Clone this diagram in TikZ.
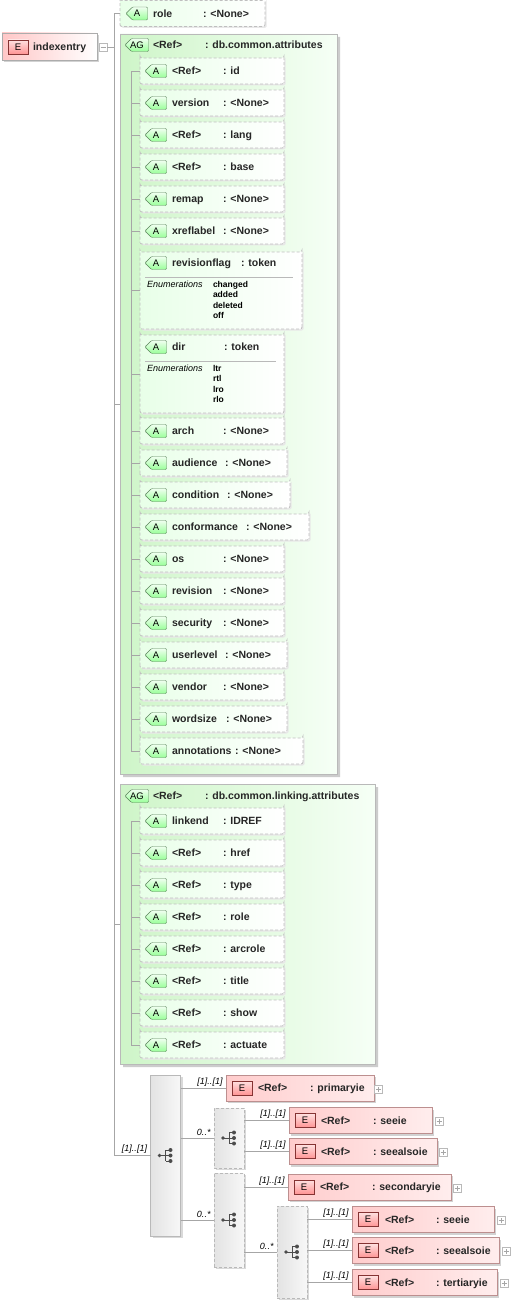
\documentclass[tikz,border=0pt]{standalone}
\usepackage{fontspec}
\setmainfont{Liberation Sans}
\usetikzlibrary{shapes.misc, shadows}

\begin{document}
\begin{tikzpicture}[
        x=1pt, y=-1pt,
        every node/.style={inner sep=0pt, outer sep=0pt, font=\bfseries\fontsize{10.5}{12}\selectfont},
        conn/.style={draw=gray!70, line width=0.7pt},
        txt/.style={anchor=west, text height=7.5pt, text depth=0pt, text=black!85},
        mult/.style={anchor=south east, xshift=-3.5pt, yshift=2pt, font=\itshape\fontsize{9}{10}\selectfont},
        enumhead/.style={anchor=west, font=\itshape\fontsize{9}{10}\selectfont},
        enumlist/.style={anchor=north west, align=left, font=\bfseries\fontsize{8.5}{10.6}\selectfont},
        rootbox/.style={rectangle, draw=gray!65, left color=red!22!white, right color=white, minimum width=95pt, minimum height=27pt, anchor=west, drop shadow={shadow xshift=2pt, shadow yshift=-2pt, fill=gray!35, opacity=1}},
        elem/.style={rectangle, draw=red!25!gray!70, left color=red!20!white, right color=red!7!white, minimum height=26pt, anchor=west, drop shadow={shadow xshift=2pt, shadow yshift=-2pt, fill=gray!35, opacity=1}},
        attr/.style={chamfered rectangle, chamfered rectangle corners={north west,south west}, chamfered rectangle xsep=6pt, chamfered rectangle ysep=6pt, rounded corners=2pt, draw=gray!50, dash pattern=on 3pt off 2pt, line width=0.8pt, left color=green!9!white, right color=white, minimum height=26pt, anchor=west, drop shadow={shadow xshift=1.5pt, shadow yshift=-1.5pt, fill=gray!18, opacity=1}},
        group/.style={chamfered rectangle, chamfered rectangle corners={north west,south west}, chamfered rectangle xsep=8pt, chamfered rectangle ysep=8pt, draw=gray!55, line width=0.8pt, left color={rgb,255:red,206;green,245;blue,200}, right color={rgb,255:red,246;green,255;blue,246}, anchor=west, drop shadow={shadow xshift=3pt, shadow yshift=-3pt, fill=gray!40, opacity=1}},
        aicon/.style={chamfered rectangle, chamfered rectangle corners={north west,south west}, chamfered rectangle xsep=3pt, chamfered rectangle ysep=3pt, rounded corners=1pt, draw=green!25!black!65, top color=green!6!white, bottom color=green!40!white, minimum width=21pt, minimum height=13pt, font=\fontsize{9.5}{10}\selectfont},
        agicon/.style={aicon, minimum width=23pt},
        eicon/.style={rectangle, draw=red!40!black!80, top color=red!12!white, bottom color=red!42!white, minimum width=20pt, minimum height=14pt, font=\fontsize{9.5}{10}\selectfont},
        seqbox/.style={rectangle, draw=gray!55, line width=0.8pt, left color=gray!22, right color=gray!6, minimum width=30pt, drop shadow={shadow xshift=2pt, shadow yshift=-2pt, fill=gray!30, opacity=1}},
        optseq/.style={seqbox, dash pattern=on 3pt off 2pt},
        toggle/.style={rectangle, draw=gray!55, fill=white, minimum size=8pt},
        plus/.style={toggle, path picture={\draw[gray!70] ([xshift=-2.5pt]path picture bounding box.center) -- ([xshift=2.5pt]path picture bounding box.center) ([yshift=-2.5pt]path picture bounding box.center) -- ([yshift=2.5pt]path picture bounding box.center);}},
        minus/.style={toggle, path picture={\draw[gray!70] ([xshift=-2.5pt]path picture bounding box.center) -- ([xshift=2.5pt]path picture bounding box.center);}},
        seqicon/.pic={
            \draw[black!70, line width=0.8pt] (-6,0) -- (0,0) (0,-5.5) -- (0,5.5) (0,-5.5) -- (5,-5.5) (0,0) -- (5,0) (0,5.5) -- (5,5.5);
            \fill[black!70] (-6,0) circle (1.8pt) (5,-5.5) circle (2pt) (5,0) circle (2pt) (5,5.5) circle (2pt);
        },
    ]
        \fill[white] (0,0) rectangle (511,1305);
        \useasboundingbox (0,0) rectangle (511,1305);

        % root element
        \node[rootbox] (indexentry) at (2,46.5) {};
        \node[eicon] at (18,47) {E};
        \node[txt] at (33,47) {indexentry};
        \node[minus] (indexentry-m) at (103,47.5) {};
        \coordinate (spine) at (114,47.5);
        \coordinate (bus) at (131,0);

        \node[attr, minimum width=145pt] (role) at (120,13.5) {};
        \node[aicon] at (137,13.5) {A};
        \node[txt] at (153,13.5) {role};
        \node[txt] at (203,13.5) {: <None>};

        % db.common.attributes
        \node[group, minimum width=217pt, minimum height=740pt] (common) at (120,404) {};
        \node[agicon] at (137,45) {AG};
        \node[txt] at (153,45) {<Ref>};
        \node[txt] at (205,45) {: db.common.attributes};

        \node[attr, minimum width=144pt] (id) at (140,71) {};
        \node[aicon] at (156,71) {A};
        \node[txt] at (172,71) {<Ref>};
        \node[txt] at (223,71) {: id};

        \node[attr, minimum width=144pt] (version) at (140,103) {};
        \node[aicon] at (156,103) {A};
        \node[txt] at (172,103) {version};
        \node[txt] at (223,103) {: <None>};

        \node[attr, minimum width=144pt] (lang) at (140,135) {};
        \node[aicon] at (156,135) {A};
        \node[txt] at (172,135) {<Ref>};
        \node[txt] at (223,135) {: lang};

        \node[attr, minimum width=144pt] (base) at (140,167) {};
        \node[aicon] at (156,167) {A};
        \node[txt] at (172,167) {<Ref>};
        \node[txt] at (223,167) {: base};

        \node[attr, minimum width=144pt] (remap) at (140,199) {};
        \node[aicon] at (156,199) {A};
        \node[txt] at (172,199) {remap};
        \node[txt] at (223,199) {: <None>};

        \node[attr, minimum width=144pt] (xreflabel) at (140,231) {};
        \node[aicon] at (156,231) {A};
        \node[txt] at (172,231) {xreflabel};
        \node[txt] at (223,231) {: <None>};

        \node[attr, minimum width=162pt, minimum height=77pt] (revisionflag) at (140,290.5) {};
        \node[aicon] at (156,263) {A};
        \node[txt] at (172,263) {revisionflag};
        \node[txt] at (241,263) {: token};
        \draw[gray!55] (145,277) -- (293,277);
        \node[enumhead] at (147,284.5) {Enumerations};
        \node[enumlist] at (213,281) {changed\\added\\deleted\\off};

        \node[attr, minimum width=144pt, minimum height=78pt] (dir) at (140,374) {};
        \node[aicon] at (156,347) {A};
        \node[txt] at (172,347) {dir};
        \node[txt] at (224,347) {: token};
        \draw[gray!55] (145,361) -- (276,361);
        \node[enumhead] at (147,368) {Enumerations};
        \node[enumlist] at (213,365) {ltr\\rtl\\lro\\rlo};

        \node[attr, minimum width=144pt] (arch) at (140,431) {};
        \node[aicon] at (156,431) {A};
        \node[txt] at (172,431) {arch};
        \node[txt] at (223,431) {: <None>};

        \node[attr, minimum width=147pt] (audience) at (140,463) {};
        \node[aicon] at (156,463) {A};
        \node[txt] at (172,463) {audience};
        \node[txt] at (225,463) {: <None>};

        \node[attr, minimum width=150pt] (condition) at (140,495) {};
        \node[aicon] at (156,495) {A};
        \node[txt] at (172,495) {condition};
        \node[txt] at (227,495) {: <None>};

        \node[attr, minimum width=169pt] (conformance) at (140,527) {};
        \node[aicon] at (156,527) {A};
        \node[txt] at (172,527) {conformance};
        \node[txt] at (246,527) {: <None>};

        \node[attr, minimum width=144pt] (os) at (140,559) {};
        \node[aicon] at (156,559) {A};
        \node[txt] at (172,559) {os};
        \node[txt] at (223,559) {: <None>};

        \node[attr, minimum width=144pt] (revision) at (140,591) {};
        \node[aicon] at (156,591) {A};
        \node[txt] at (172,591) {revision};
        \node[txt] at (223,591) {: <None>};

        \node[attr, minimum width=144pt] (security) at (140,623) {};
        \node[aicon] at (156,623) {A};
        \node[txt] at (172,623) {security};
        \node[txt] at (223,623) {: <None>};

        \node[attr, minimum width=147pt] (userlevel) at (140,655) {};
        \node[aicon] at (156,655) {A};
        \node[txt] at (172,655) {userlevel};
        \node[txt] at (225,655) {: <None>};

        \node[attr, minimum width=144pt] (vendor) at (140,687) {};
        \node[aicon] at (156,687) {A};
        \node[txt] at (172,687) {vendor};
        \node[txt] at (223,687) {: <None>};

        \node[attr, minimum width=147pt] (wordsize) at (140,719) {};
        \node[aicon] at (156,719) {A};
        \node[txt] at (172,719) {wordsize};
        \node[txt] at (226,719) {: <None>};

        \node[attr, minimum width=163pt] (annotations) at (140,751) {};
        \node[aicon] at (156,751) {A};
        \node[txt] at (172,751) {annotations};
        \node[txt] at (235,751) {: <None>};

        % db.common.linking.attributes
        \node[group, minimum width=255pt, minimum height=280pt] (linking) at (120,924) {};
        \node[agicon] at (137,796) {AG};
        \node[txt] at (153,796) {<Ref>};
        \node[txt] at (205,796) {: db.common.linking.attributes};

        \node[attr, minimum width=144pt] (linkend) at (140,821) {};
        \node[aicon] at (156,821) {A};
        \node[txt] at (172,821) {linkend};
        \node[txt] at (223,821) {: IDREF};

        \node[attr, minimum width=144pt] (href) at (140,853) {};
        \node[aicon] at (156,853) {A};
        \node[txt] at (172,853) {<Ref>};
        \node[txt] at (223,853) {: href};

        \node[attr, minimum width=144pt] (type) at (140,885) {};
        \node[aicon] at (156,885) {A};
        \node[txt] at (172,885) {<Ref>};
        \node[txt] at (223,885) {: type};

        \node[attr, minimum width=144pt] (linkrole) at (140,917) {};
        \node[aicon] at (156,917) {A};
        \node[txt] at (172,917) {<Ref>};
        \node[txt] at (223,917) {: role};

        \node[attr, minimum width=144pt] (arcrole) at (140,949) {};
        \node[aicon] at (156,949) {A};
        \node[txt] at (172,949) {<Ref>};
        \node[txt] at (223,949) {: arcrole};

        \node[attr, minimum width=144pt] (title) at (140,981) {};
        \node[aicon] at (156,981) {A};
        \node[txt] at (172,981) {<Ref>};
        \node[txt] at (223,981) {: title};

        \node[attr, minimum width=144pt] (show) at (140,1013) {};
        \node[aicon] at (156,1013) {A};
        \node[txt] at (172,1013) {<Ref>};
        \node[txt] at (223,1013) {: show};

        \node[attr, minimum width=144pt] (actuate) at (140,1045) {};
        \node[aicon] at (156,1045) {A};
        \node[txt] at (172,1045) {<Ref>};
        \node[txt] at (223,1045) {: actuate};

        % content model
        \node[seqbox, minimum height=161pt] (seq1) at (165.5,1155.5) {};
        \pic at (seq1) {seqicon};
        \node[optseq, minimum height=60pt] (seq2) at (229,1138) {};
        \pic at (seq2) {seqicon};
        \node[optseq, minimum height=94pt] (seq3) at (229,1220) {};
        \pic at (seq3) {seqicon};
        \node[optseq, minimum height=92pt] (seq4) at (292,1252) {};
        \pic at (seq4) {seqicon};

        \node[elem, minimum width=148pt] (primaryie) at (226,1088) {};
        \node[eicon] at (242,1088) {E};
        \node[txt] at (258,1088) {<Ref>};
        \node[txt] at (310,1088) {: primaryie};
        \node[plus] at (378.5,1089.5) {};

        \node[elem, minimum width=143pt] (seeie) at (289,1120.5) {};
        \node[eicon] at (305,1120.5) {E};
        \node[txt] at (321,1120.5) {<Ref>};
        \node[txt] at (373,1120.5) {: seeie};
        \node[plus] at (439,1121.5) {};

        \node[elem, minimum width=148pt] (seealsoie) at (289,1151.5) {};
        \node[eicon] at (305,1151.5) {E};
        \node[txt] at (321,1151.5) {<Ref>};
        \node[txt] at (373,1151.5) {: seealsoie};
        \node[plus] at (443,1152.5) {};

        \node[elem, minimum width=163pt] (secondaryie) at (288,1187) {};
        \node[eicon] at (304,1187) {E};
        \node[txt] at (320,1187) {<Ref>};
        \node[txt] at (372,1187) {: secondaryie};
        \node[plus] at (457,1188) {};

        \node[elem, minimum width=142pt] (seeie-s) at (352,1219.5) {};
        \node[eicon] at (368,1219.5) {E};
        \node[txt] at (385,1219.5) {<Ref>};
        \node[txt] at (436,1219.5) {: seeie};
        \node[plus] at (501,1220.5) {};

        \node[elem, minimum width=147pt] (seealsoie-s) at (352,1250.5) {};
        \node[eicon] at (368,1250.5) {E};
        \node[txt] at (385,1250.5) {<Ref>};
        \node[txt] at (436,1250.5) {: seealsoie};
        \node[plus] at (506,1251.5) {};

        \node[elem, minimum width=145pt] (tertiaryie) at (352,1282.5) {};
        \node[eicon] at (368,1282.5) {E};
        \node[txt] at (385,1282.5) {<Ref>};
        \node[txt] at (436,1282.5) {: tertiaryie};
        \node[plus] at (504,1283.5) {};

        % connectors
        \draw[conn] (indexentry-m.east) -- (spine);
        \draw[conn] (role.west) -| (spine);
        \draw[conn] (common.west) -- (common.west -| spine);
        \draw[conn] (linking.west) -- (linking.west -| spine);
        \draw[conn] (spine) |- (seq1.west) node[mult] {[1]..[1]};

        \draw[conn] (id.west) -- (id.west -| bus) -- (annotations.west -| bus) -- (annotations.west);
        \draw[conn] (version.west) -- (version.west -| bus);
        \draw[conn] (lang.west) -- (lang.west -| bus);
        \draw[conn] (base.west) -- (base.west -| bus);
        \draw[conn] (remap.west) -- (remap.west -| bus);
        \draw[conn] (xreflabel.west) -- (xreflabel.west -| bus);
        \draw[conn] (revisionflag.west) -- (revisionflag.west -| bus);
        \draw[conn] (dir.west) -- (dir.west -| bus);
        \draw[conn] (arch.west) -- (arch.west -| bus);
        \draw[conn] (audience.west) -- (audience.west -| bus);
        \draw[conn] (condition.west) -- (condition.west -| bus);
        \draw[conn] (conformance.west) -- (conformance.west -| bus);
        \draw[conn] (os.west) -- (os.west -| bus);
        \draw[conn] (revision.west) -- (revision.west -| bus);
        \draw[conn] (security.west) -- (security.west -| bus);
        \draw[conn] (userlevel.west) -- (userlevel.west -| bus);
        \draw[conn] (vendor.west) -- (vendor.west -| bus);
        \draw[conn] (wordsize.west) -- (wordsize.west -| bus);

        \draw[conn] (linkend.west) -- (linkend.west -| bus) -- (actuate.west -| bus) -- (actuate.west);
        \draw[conn] (href.west) -- (href.west -| bus);
        \draw[conn] (type.west) -- (type.west -| bus);
        \draw[conn] (linkrole.west) -- (linkrole.west -| bus);
        \draw[conn] (arcrole.west) -- (arcrole.west -| bus);
        \draw[conn] (title.west) -- (title.west -| bus);
        \draw[conn] (show.west) -- (show.west -| bus);

        \draw[conn] (seq1.east |- primaryie.west) -- (primaryie.west) node[mult] {[1]..[1]};
        \draw[conn] (seq1.east |- seq2.west) -- (seq2.west) node[mult] {0..*};
        \draw[conn] (seq1.east |- seq3.west) -- (seq3.west) node[mult] {0..*};
        \draw[conn] (seq2.east |- seeie.west) -- (seeie.west) node[mult] {[1]..[1]};
        \draw[conn] (seq2.east |- seealsoie.west) -- (seealsoie.west) node[mult] {[1]..[1]};
        \draw[conn] (seq3.east |- secondaryie.west) -- (secondaryie.west) node[mult] {[1]..[1]};
        \draw[conn] (seq3.east |- seq4.west) -- (seq4.west) node[mult] {0..*};
        \draw[conn] (seq4.east |- seeie-s.west) -- (seeie-s.west) node[mult] {[1]..[1]};
        \draw[conn] (seq4.east |- seealsoie-s.west) -- (seealsoie-s.west) node[mult] {[1]..[1]};
        \draw[conn] (seq4.east |- tertiaryie.west) -- (tertiaryie.west) node[mult] {[1]..[1]};
    \end{tikzpicture}
\end{document}
